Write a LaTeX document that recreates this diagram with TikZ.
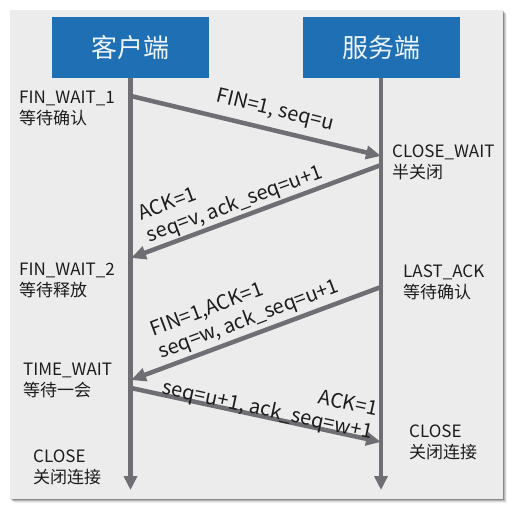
\documentclass[tikz,border=0pt]{standalone}
\usepackage{fontspec}
\setmainfont{Noto Sans CJK SC}
\usetikzlibrary{arrows.meta, positioning}
\definecolor{hostblue}{RGB}{31,111,181}
\definecolor{linegray}{RGB}{110,110,116}
\definecolor{panelgray}{RGB}{236,236,236}
\definecolor{textdark}{RGB}{28,28,28}
\begin{document}
\begin{tikzpicture}[x=1pt,y=-1pt,
  host/.style={fill=hostblue, text=white!92!hostblue, minimum width=157pt, minimum height=61pt,
    inner sep=0pt, font=\fontsize{26}{30}\selectfont},
  life/.style={draw=linegray, line width=4.5pt, -{Triangle[length=14pt,width=13pt]}},
  msg/.style={draw=linegray, line width=4.5pt, -{Triangle[length=15pt,width=13pt]}},
  state/.style={anchor=north west, align=left, inner sep=0pt, text=textdark,
    font=\fontsize{17}{21}\selectfont},
  lbl/.style={align=left, inner sep=0pt, text=textdark, font=\fontsize{20}{23.5}\selectfont}]

\useasboundingbox (0,0) rectangle (513,509);
% panel and its shadow
\foreach \d/\o in {4/0.06,3/0.1,2/0.16,1/0.25} {
    \fill[black, opacity=\o] (10+\d,10+\d) rectangle (503+\d,499+\d);
}
\fill[panelgray] (10,10) rectangle (503,499);

% hosts and life lines
\node[host] (client) at (130.5,47.5) {客户端};
\node[host] (server) at (381,47.5) {服务端};
\coordinate (cend) at (130.5,490);
\coordinate (send) at (381,490);
\draw[life] (client.south) -- (cend);
\draw[life] (server.south) -- (send);

% message ends
\coordinate (c1) at (131,96);
\coordinate (s1) at (381,156);
\coordinate (s2) at (381,165);
\coordinate (c2) at (131,258);
\coordinate (s3) at (381,287);
\coordinate (c3) at (131,380);
\coordinate (c4) at (131,388);
\coordinate (s4) at (381,442);

\draw[msg] (c1) -- (s1);
\draw[msg] (s2) -- (c2);
\draw[msg] (s3) -- (c3);
\draw[msg] (c4) -- (s4);

% message labels
\node[lbl, rotate=-13.7] (fin1) at (275,111) {FIN=1, seq=u};
\node[lbl, rotate=20.4] (ack1) at (231,194) {ACK=1\\seq=v, ack\_seq=u+1};
\node[lbl, rotate=20.6] (fin2) at (245,309) {FIN=1,ACK=1\\seq=w, ack\_seq=u+1};
\node[lbl, rotate=-12.2, align=right] (ack2) at (270,400) {ACK=1\\seq=u+1, ack\_seq=w+1};

% states
\node[state] (wait1) at (19,91) {FIN\_WAIT\_1\\等待确认};
\node[state] (cwait) at (392,145) {CLOSE\_WAIT\\半关闭};
\node[state] (wait2) at (19,263) {FIN\_WAIT\_2\\等待释放};
\node[state] (lack) at (403,265) {LAST\_ACK\\等待确认};
\node[state] (twait) at (23,363) {TIME\_WAIT\\等待一会};
\node[state] (cclose) at (33,450) {CLOSE\\关闭连接};
\node[state] (sclose) at (409,425) {CLOSE\\关闭连接};
\end{tikzpicture}
\end{document}
